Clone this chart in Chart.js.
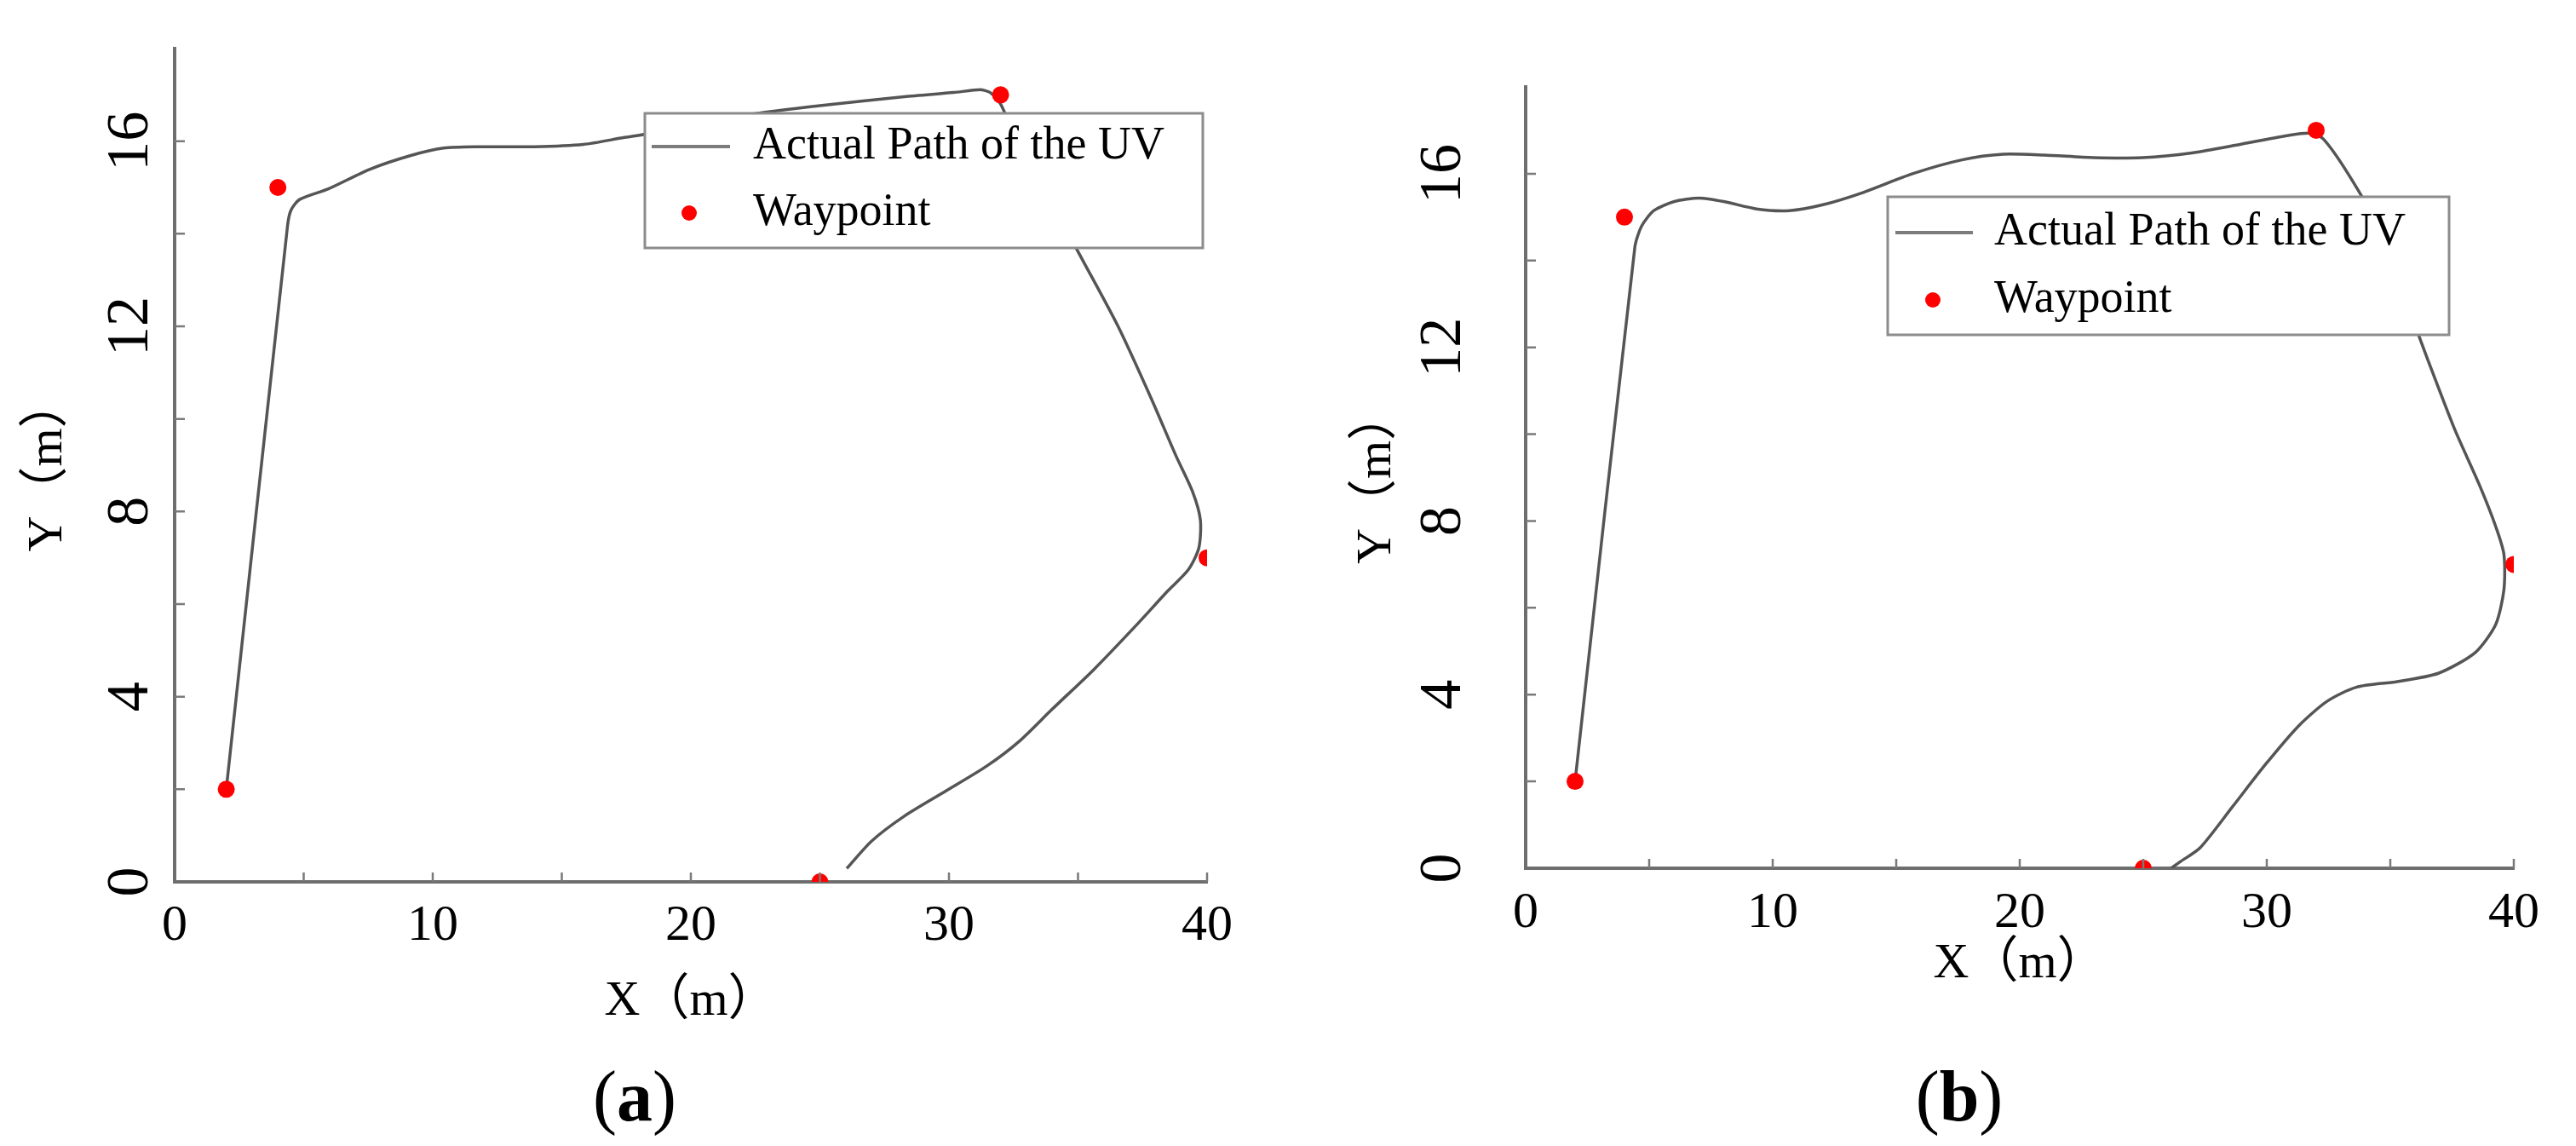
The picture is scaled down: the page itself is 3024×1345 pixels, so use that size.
<!DOCTYPE html>
<html>
<head>
<meta charset="utf-8">
<script src="https://cdn.jsdelivr.net/npm/chart.js@4.4.1/dist/chart.umd.min.js"></script>
<style>
  html, body { margin: 0; padding: 0; background: #ffffff; }
  body { width: 3024px; height: 1345px; position: relative; overflow: hidden; }
  canvas { position: absolute; top: 0; }
  .cap { position: absolute; font-family: 'Liberation Serif', serif; font-size: 84px; line-height: 84px; height: 84px; width: 200px; text-align: center; color: #000; }
</style>
</head>
<body>
<canvas id="ca" width="1512" height="1345" style="left:0px"></canvas>
<canvas id="cb" width="1512" height="1345" style="left:1512px"></canvas>
<div class="cap" style="left:645px; top:1245px;">(<b>a</b>)</div>
<div class="cap" style="left:2200px; top:1245px;">(<b>b</b>)</div>
<script>
// ---------- data ----------
const seriesNames = ['Actual Path of the UV', 'Waypoint'];
const xTitle = 'X（m）';
const yTitle = 'Y（m）';
const xTickLabels = [0, 10, 20, 30, 40];
const yTickLabels = [0, 4, 8, 12, 16];

const waypointX = [2, 4, 32, 40, 25];
const waypointY = [2, 15, 17, 7, 0];

const pathAX = [2, 4.37, 4.5, 4.84, 5.96, 7.55, 9.15, 10.42, 11.7, 13.93, 15.84, 17.43, 18.71, 20.5, 22.2, 25.08, 28.27, 30.18, 31.2, 31.6, 32.0, 32.4, 35.18, 36.56, 37.83, 38.79, 39.43, 39.74, 39.68, 39.27, 38.47, 37.2, 35.6, 34.0, 32.73, 31.46, 29.87, 28.27, 27.0, 26.04];
const pathAY = [2, 14.15, 14.5, 14.74, 14.97, 15.39, 15.69, 15.85, 15.88, 15.88, 15.93, 16.08, 16.19, 16.38, 16.57, 16.77, 16.96, 17.05, 17.11, 17.05, 16.8, 16.31, 13.43, 11.99, 10.45, 9.21, 8.44, 7.82, 7.21, 6.74, 6.28, 5.51, 4.58, 3.73, 3.04, 2.5, 1.96, 1.42, 0.88, 0.29];

const pathBX = [2, 4.42, 4.69, 5.19, 6.02, 7.02, 8.01, 9.34, 10.67, 12.0, 13.67, 15.66, 17.66, 19.32, 20.98, 22.98, 24.97, 26.97, 28.96, 30.96, 31.79, 32.29, 33.29, 34.45, 36.5, 37.6, 38.6, 39.27, 39.6, 39.6, 39.27, 38.44, 36.94, 35.28, 33.62, 32.45, 31.29, 29.96, 28.63, 27.3, 26.47, 26.13];
const pathBY = [2, 14.31, 14.79, 15.15, 15.36, 15.44, 15.36, 15.19, 15.15, 15.28, 15.57, 16.0, 16.32, 16.45, 16.43, 16.37, 16.37, 16.48, 16.68, 16.89, 16.93, 16.8, 16.0, 14.83, 11.74, 10.12, 8.84, 7.87, 7.23, 6.42, 5.62, 4.97, 4.49, 4.30, 4.17, 3.85, 3.28, 2.4, 1.43, 0.47, 0.14, 0];

// ---------- helpers ----------
const FONT = "'Liberation Serif', 'Noto Sans CJK SC', serif";
function pts(xs, ys) { return xs.map((x, i) => ({ x: x, y: ys[i] })); }

const decorPlugin = {
  id: 'decor',
  afterDraw(chart, args, o) {
    const ctx = chart.ctx;
    const xs = chart.scales.x, ys = chart.scales.y;
    const area = chart.chartArea;
    ctx.save();
    // inward tick marks
    ctx.strokeStyle = '#7a7a7a';
    ctx.lineWidth = 2.5;
    ctx.beginPath();
    xs.ticks.forEach(t => {
      if (t.value <= xs.min) return;
      const px = xs.getPixelForValue(t.value);
      ctx.moveTo(px, area.bottom);
      ctx.lineTo(px, area.bottom - 11);
    });
    ys.ticks.forEach(t => {
      if (t.value <= ys.min || t.value >= ys.max) return;
      const py = ys.getPixelForValue(t.value);
      ctx.moveTo(area.left, py);
      ctx.lineTo(area.left + 12, py);
    });
    ctx.stroke();
    // legend box
    const L = o.box;
    ctx.fillStyle = '#ffffff';
    ctx.fillRect(L.left, L.top, L.right - L.left, L.bottom - L.top);
    ctx.strokeStyle = '#8c8c8c';
    ctx.lineWidth = 3;
    ctx.strokeRect(L.left, L.top, L.right - L.left, L.bottom - L.top);
    const ds = chart.data.datasets;
    // row 1: line sample
    ctx.strokeStyle = '#7c7c7c';
    ctx.lineWidth = 4;
    ctx.beginPath();
    ctx.moveTo(L.lineX0, L.row1);
    ctx.lineTo(L.lineX1, L.row1);
    ctx.stroke();
    // row 2: dot
    ctx.fillStyle = ds[0].backgroundColor;
    ctx.beginPath();
    ctx.arc(L.dotX, L.row2, 9, 0, Math.PI * 2);
    ctx.fill();
    ctx.fillStyle = '#000';
    ctx.font = L.fontSize + 'px ' + FONT;
    ctx.textAlign = 'left';
    ctx.textBaseline = 'middle';
    ctx.fillText(ds[1].label, L.textX, L.row1);
    ctx.fillText(ds[0].label, L.textX, L.row2);
    ctx.restore();
  }
};

function makeChart(id, px, py, geo) {
  return new Chart(document.getElementById(id), {
    type: 'scatter',
    data: {
      datasets: [
        {
          label: seriesNames[1],
          data: pts(waypointX, waypointY),
          backgroundColor: '#ff0000',
          borderColor: '#ff0000',
          pointRadius: 10,
          pointBorderWidth: 0,
          showLine: false,
          order: 0
        },
        {
          label: seriesNames[0],
          data: pts(px, py),
          borderColor: '#555555',
          backgroundColor: '#555555',
          borderWidth: 3.5,
          pointRadius: 0,
          showLine: true,
          tension: 0.25,
          order: 1
        }
      ]
    },
    options: {
      responsive: false,
      animation: false,
      devicePixelRatio: 1,
      layout: { padding: { left: 0, top: geo.top, right: geo.right, bottom: 0 } },
      plugins: {
        legend: { display: false },
        tooltip: { enabled: false },
        decor: { box: geo.legend }
      },
      scales: {
        x: {
          type: 'linear',
          min: 0, max: 40,
          grid: { display: false, drawTicks: false },
          border: { display: true, color: '#6e6e6e', width: 4 },
          ticks: {
            stepSize: 5,
            padding: geo.xTickPad,
            color: '#000',
            font: { family: FONT, size: 60 },
            maxRotation: 0,
            callback: v => xTickLabels.includes(v) ? String(v) : ''
          },
          title: {
            display: true, text: xTitle, color: '#000',
            font: { family: FONT, size: 58 },
            padding: { top: 0, bottom: geo.xTitlePadBottom }
          },
          afterFit: s => { s.height = 1345 - geo.bottom; }
        },
        y: {
          type: 'linear',
          min: 0, max: 18,
          grid: { display: false, drawTicks: false },
          border: { display: true, color: '#6e6e6e', width: 4 },
          ticks: {
            stepSize: 2,
            padding: geo.yTickPad,
            color: '#000',
            minRotation: 90, maxRotation: 90,
            crossAlign: 'center',
            font: { family: FONT, size: 70 },
            callback: v => yTickLabels.includes(v) ? String(v) : ''
          },
          title: {
            display: true, text: yTitle, color: '#000',
            font: { family: FONT, size: 58 },
            padding: { top: geo.yTitlePadTop, bottom: 0 }
          },
          afterFit: s => { s.width = geo.left; }
        }
      }
    },
    plugins: [decorPlugin]
  });
}

makeChart('ca', pathAX, pathAY, {
  left: 205, top: 39, right: 95, bottom: 1035,
  xTickPad: 16, yTickPad: 15,
  xTitlePadBottom: 134, yTitlePadTop: 22,
  legend: { left: 757, top: 133, right: 1412, bottom: 291, row1: 172, row2: 250, lineX0: 765, lineX1: 857, dotX: 809, textX: 884, fontSize: 54 }
});

makeChart('cb', pathBX, pathBY, {
  left: 279, top: 63, right: 73, bottom: 1019,
  xTickPad: 17, yTickPad: 60,
  xTitlePadBottom: 178, yTitlePadTop: 70,
  legend: { left: 704, top: 231, right: 1363, bottom: 393, row1: 273, row2: 352, lineX0: 713, lineX1: 804, dotX: 757, textX: 829, fontSize: 54 }
});
</script>
</body>
</html>
